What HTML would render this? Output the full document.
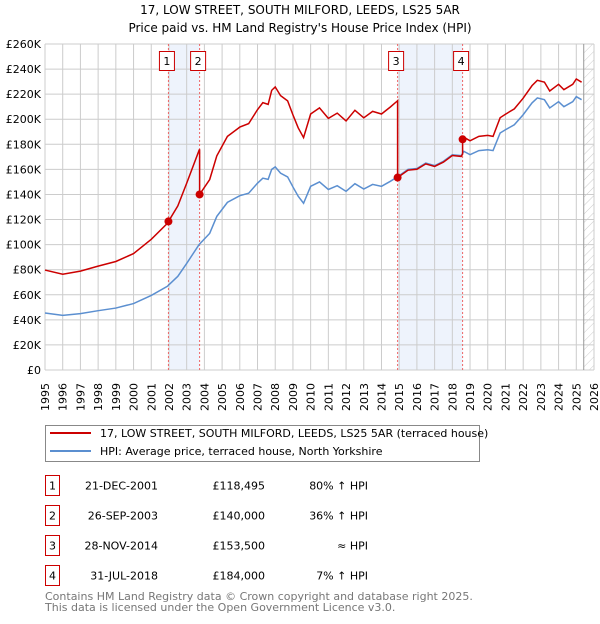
<!DOCTYPE html>
<html><head><meta charset="utf-8"><style>
body{margin:0;background:#fff;font-family:"DejaVu Sans","Liberation Sans",sans-serif;}
svg text{font-family:"DejaVu Sans","Liberation Sans",sans-serif;}
</style></head><body>
<svg id="chart" width="600" height="620" xmlns="http://www.w3.org/2000/svg">
<defs><pattern id="hatch" patternUnits="userSpaceOnUse" width="6" height="6" patternTransform="rotate(45)"><line x1="0" y1="0" x2="0" y2="6" stroke="#ccc" stroke-width="1"/></pattern></defs>
<text x="300" y="14" text-anchor="middle" font-size="12">17, LOW STREET, SOUTH MILFORD, LEEDS, LS25 5AR</text>
<text x="300" y="32" text-anchor="middle" font-size="12">Price paid vs. HM Land Registry's House Price Index (HPI)</text>
<g id="grid"></g><g id="marks"></g><g id="axes"></g>
<g>
<rect x="45.5" y="425.5" width="434" height="36" fill="#fff" stroke="#888"/>
<line x1="50" y1="433" x2="91" y2="433" stroke="#cc0000" stroke-width="2"/>
<text x="100" y="437" font-size="11">17, LOW STREET, SOUTH MILFORD, LEEDS, LS25 5AR (terraced house)</text>
<line x1="50" y1="451" x2="91" y2="451" stroke="#5b8fd0" stroke-width="2"/>
<text x="100" y="455" font-size="11">HPI: Average price, terraced house, North Yorkshire</text>
</g>
<g id="table"></g>
<text x="45" y="600" font-size="11" fill="#777">Contains HM Land Registry data © Crown copyright and database right 2025.</text>
<text x="45" y="611" font-size="11" fill="#777">This data is licensed under the Open Government Licence v3.0.</text>
</svg>
<script>
const hpiYears=[1995,1996,1997,1998,1999,2000,2001,2001.9,2002.5,2003,2003.7,2004.3,2004.7,2005.3,2006,2006.5,2007,2007.3,2007.6,2007.8,2008,2008.3,2008.7,2009,2009.3,2009.6,2010,2010.5,2011,2011.5,2012,2012.5,2013,2013.5,2014,2014.5,2014.9,2015.5,2016,2016.5,2017,2017.5,2018,2018.5,2018.65,2019,2019.5,2020,2020.3,2020.7,2021,2021.5,2022,2022.5,2022.8,2023.2,2023.5,2024,2024.3,2024.8,2025,2025.3];
const hpiValues=[45.5,43.6,45,47.3,49.4,53,59.5,66.7,74.7,85,100,109,122.5,133.7,139,141,149,153,152,160,162,157,154,146,138.5,133,146.5,150,144,147,142.5,148.6,144.3,148,146.5,150.5,154,160,160.7,165,163,166.5,171.7,171,174.4,171.7,175,175.7,175,189,191.6,195.6,203.6,213,217,215.6,209,214,210,214,218,215.6];
const saleLabels=["1","2","3","4"];
const saleDates=[2001.97,2003.73,2014.91,2018.58];
const saleDateText=["21-DEC-2001","26-SEP-2003","28-NOV-2014","31-JUL-2018"];
const salePrices=[118.495,140,153.5,184];
const salePriceText=["£118,495","£140,000","£153,500","£184,000"];
const saleHpiText=["80% ↑ HPI","36% ↑ HPI","≈ HPI","7% ↑ HPI"];
const yTicks=[0,20,40,60,80,100,120,140,160,180,200,220,240,260];
const xTicks=[1995,1996,1997,1998,1999,2000,2001,2002,2003,2004,2005,2006,2007,2008,2009,2010,2011,2012,2013,2014,2015,2016,2017,2018,2019,2020,2021,2022,2023,2024,2025,2026];

const NS="http://www.w3.org/2000/svg";
const X=y=>45+(y-1995)*(549/31);
const Y=v=>370-v*(326/260);
function mk(tag,attrs,parent){const e=document.createElementNS(NS,tag);for(const k in attrs)e.setAttribute(k,attrs[k]);parent.appendChild(e);return e;}
const grid=document.getElementById('grid'),marks=document.getElementById('marks'),axes=document.getElementById('axes'),table=document.getElementById('table');
function hpiAt(t){for(let i=1;i<hpiYears.length;i++){if(t<=hpiYears[i]){const f=(t-hpiYears[i-1])/(hpiYears[i]-hpiYears[i-1]);return hpiValues[i-1]+f*(hpiValues[i]-hpiValues[i-1]);}}return hpiValues[hpiValues.length-1];}
// shaded ranges
for(const [a,b] of [[0,1],[2,3]]){const r=mk('rect',{x:X(saleDates[a]),y:Y(260),width:X(saleDates[b])-X(saleDates[a]),height:Y(0)-Y(260),fill:'#eef3fc'},grid);

}
xTicks.forEach(t=>{const l=mk('line',{x1:X(t),x2:X(t),y1:Y(260),y2:Y(0),stroke:'#ccc'},grid);

});
yTicks.forEach(v=>{const l=mk('line',{x1:X(1995),x2:X(2026),y1:Y(v),y2:Y(v),stroke:'#ccc'},grid);


const tx=mk('text',{x:41,y:Y(v)+4,'text-anchor':'end','font-size':11},axes);tx.textContent=v===0?'£0':'£'+v+'K';

});
const hx=X(2025.42);
const h=mk('rect',{x:hx,y:Y(260),width:X(2026)-hx,height:Y(0)-Y(260),fill:'url(#hatch)'},grid);


mk('line',{x1:hx,x2:hx,y1:Y(260),y2:Y(0),stroke:'#999'},grid);
xTicks.forEach(t=>{const tx=mk('text',{transform:`translate(${X(t)+4},383) rotate(-90)`,'text-anchor':'end','font-size':11},axes);tx.textContent=t;

});
// sale lines
saleDates.forEach((d,i)=>{const l=mk('line',{x1:X(d),x2:X(d),y1:Y(260),y2:Y(0),stroke:'#e66','stroke-dasharray':'2,2'},marks);


const r=mk('rect',{x:X(d)-9,y:51.5,width:15,height:19,fill:'#fff',stroke:'#cc0000'},marks);


const t=mk('text',{x:X(d)-1.5,y:65,'text-anchor':'middle','font-size':11},marks);t.textContent=saleLabels[i];});
// HPI line
const hp=mk('polyline',{points:hpiYears.map((t,i)=>X(t)+','+Y(hpiValues[i])).join(' '),fill:'none',stroke:'#5b8fd0','stroke-width':1.5},marks);


// price line: HPI-indexed from each sale
const ratios=[salePrices[0]/hpiAt(saleDates[0]),salePrices[1]/hpiAt(saleDates[1]),salePrices[2]/hpiAt(saleDates[2]),salePrices[3]/hpiAt(saleDates[3])];
const bounds=[1995,saleDates[1],saleDates[2],saleDates[3],2025.3];
let pts=[];
for(let s=0;s<4;s++){const r=ratios[s];pts.push([bounds[s],hpiAt(bounds[s])*r]);
hpiYears.forEach((t,i)=>{if(t>bounds[s]&&t<bounds[s+1])pts.push([t,hpiValues[i]*r]);});
pts.push([bounds[s+1],hpiAt(bounds[s+1])*r]);}
const pl=mk('polyline',{points:pts.map(p=>X(p[0])+','+Y(p[1])).join(' '),fill:'none',stroke:'#cc0000','stroke-width':1.5},marks);


saleDates.forEach((d,i)=>{const c=mk('circle',{cx:X(d),cy:Y(salePrices[i]),r:4,fill:'#cc0000'},marks);

});
// table
saleDates.forEach((d,i)=>{const cy=485.5+i*30;
const r=mk('rect',{x:45.5,y:cy-10,width:14,height:20,fill:'#fff',stroke:'#cc0000'},table);


const a=mk('text',{x:52.5,y:cy+4,'text-anchor':'middle','font-size':11},table);a.textContent=saleLabels[i];
const b=mk('text',{x:158,y:cy+4,'text-anchor':'end','font-size':11},table);b.textContent=saleDateText[i];


const c=mk('text',{x:265,y:cy+4,'text-anchor':'end','font-size':11},table);c.textContent=salePriceText[i];


const e=mk('text',{x:368,y:cy+4,'text-anchor':'end','font-size':11},table);e.textContent=saleHpiText[i];

});
</script>
</body></html>
